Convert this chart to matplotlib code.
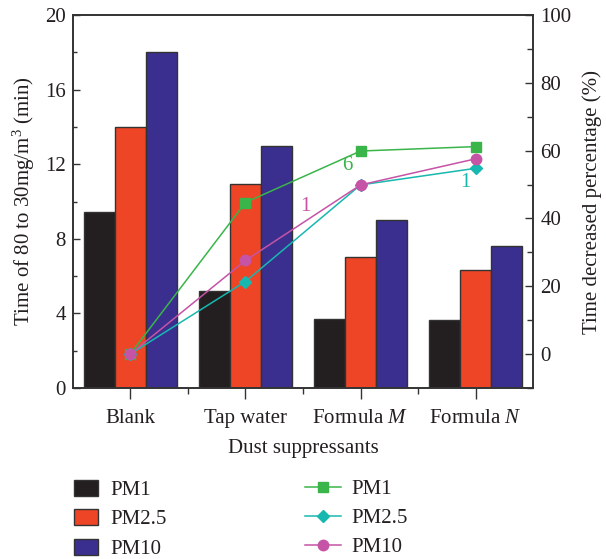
import matplotlib
matplotlib.use('Agg')
import matplotlib.pyplot as plt
import numpy as np
from matplotlib.ticker import MultipleLocator, FixedLocator
from matplotlib.lines import Line2D
from matplotlib.patches import Patch

plt.rcParams['font.family'] = ['Liberation Serif', 'DejaVu Serif']
plt.rcParams['mathtext.fontset'] = 'custom'
plt.rcParams['mathtext.rm'] = 'Liberation Serif'
plt.rcParams['mathtext.it'] = 'Liberation Serif:italic'

categories = ['Blank', 'Tap water', 'Formula $\\mathit{M}$', 'Formula $\\mathit{N}$']
pm1_time = [9.45, 5.22, 3.72, 3.65]
pm25_time = [14.0, 10.95, 7.0, 6.3]
pm10_time = [18.0, 13.0, 9.0, 7.6]
pm1_pct = [0, 44.7, 59.9, 61.2]
pm25_pct = [0, 21.4, 49.9, 54.8]
pm10_pct = [0, 27.6, 49.9, 57.6]
bar_labels = ['PM1', 'PM2.5', 'PM10']
line_labels = ['PM1', 'PM2.5', 'PM10']
annotations = [('6', 1.885, 55.5, '#39b54a'), ('1', 1.523, 43.5, '#c553a6'), ('1', 2.91, 50.5, '#17b8b0')]

bar_colors = ['#231f20', '#ee4526', '#3a2f8f']
line_colors = ['#39b54a', '#17b8b0', '#c553a6']
markers = ['s', 'D', 'o']
msizes = [7, 6.5, 7.5]

FS = 15
fig = plt.figure(figsize=(6.06, 5.59), dpi=100)
ax = fig.add_axes([0.12, 0.306, 0.76, 0.667])
x = np.arange(len(categories))
w = 0.27
for i, (vals, c, lab) in enumerate(zip([pm1_time, pm25_time, pm10_time], bar_colors, bar_labels)):
    ax.bar(x + (i - 1) * w, vals, w, color=c, edgecolor='#333333', linewidth=1.0, label=lab)

ax.set_xlim(-0.5, 3.5)
ax.set_ylim(0, 20)
ax.yaxis.set_major_locator(MultipleLocator(4))
ax.yaxis.set_minor_locator(MultipleLocator(2))
ax.set_xticks(x)
ax.set_xticklabels(categories)
ax.xaxis.set_minor_locator(FixedLocator([0.5, 1.5, 2.5]))
ax.tick_params(axis='y', which='both', direction='in', labelsize=FS, colors='#333333', labelcolor='#231f20')
ax.tick_params(axis='y', which='major', length=5, width=1, pad=5)
ax.tick_params(axis='y', which='minor', length=3, width=1)
ax.tick_params(axis='x', which='major', direction='out', length=8, width=1, pad=7, labelsize=FS, colors='#333333', labelcolor='#231f20')
ax.tick_params(axis='x', which='minor', direction='out', length=4, width=1, colors='#333333')
ax.set_ylabel('Time of 80 to 30mg/m$^3$ (min)', fontsize=FS, color='#231f20', labelpad=6)
ax.set_xlabel('Dust suppressants', fontsize=FS, color='#231f20', labelpad=8)
for s in ax.spines.values():
    s.set_linewidth(1.2)
    s.set_color('#333333')

ax2 = ax.twinx()
ax2.set_ylim(-10, 100)
ax2.set_yticks([0, 20, 40, 60, 80, 100])
ax2.yaxis.set_minor_locator(FixedLocator([-10, 10, 30, 50, 70, 90]))
ax2.tick_params(axis='y', which='both', direction='in', labelsize=FS, colors='#333333', labelcolor='#231f20')
ax2.tick_params(axis='y', which='major', length=6, width=1, pad=5)
ax2.tick_params(axis='y', which='minor', length=4, width=1)
for s in ax2.spines.values():
    s.set_linewidth(1.2)
    s.set_color('#333333')
for vals, c, m, ms, lab in zip([pm1_pct, pm25_pct, pm10_pct], line_colors, markers, msizes, line_labels):
    ax2.plot(x, vals, color=c, marker=m, markersize=ms, linewidth=1.1, label=lab)
for t, xx, yy, c in annotations:
    ax2.text(xx, yy, t, color=c, fontsize=FS, ha='center', va='center')
ax2.set_ylabel('Time decreased percentage (%)', fontsize=FS, color='#231f20', labelpad=8)

bar_handles = [Patch(facecolor=c, edgecolor='#333333', linewidth=1.0) for c in bar_colors]
leg1 = fig.legend(bar_handles, bar_labels, loc='upper left', bbox_to_anchor=(0.122, 0.142),
                  frameon=False, fontsize=FS, handlelength=1.15, handleheight=0.8, handletextpad=0.6,
                  labelspacing=0.45, borderpad=0, borderaxespad=0)
line_handles = [Line2D([0], [0], color=c, marker=m, markersize=ms, linewidth=1.1)
                for c, m, ms in zip(line_colors, markers, msizes)]
leg2 = fig.legend(line_handles, line_labels, loc='upper left', bbox_to_anchor=(0.504, 0.142),
                  frameon=False, fontsize=FS, handlelength=1.7, handletextpad=0.5,
                  labelspacing=0.45, borderpad=0, borderaxespad=0)
for lg in (leg1, leg2):
    for t in lg.get_texts():
        t.set_color('#231f20')

fig.savefig('out.png', dpi=100)
